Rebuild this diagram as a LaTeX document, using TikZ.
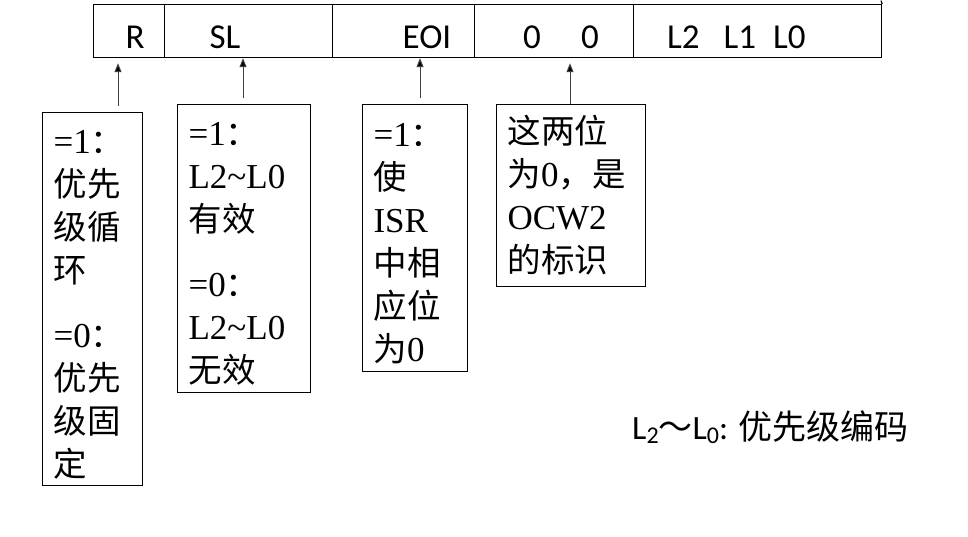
\documentclass[tikz,border=0pt]{standalone}
\usepackage{fontspec}
\setmainfont{Liberation Serif}
\newfontfamily\cjk{Noto Sans CJK SC}
\newfontfamily\calfont{Carlito}
\usetikzlibrary{arrows.meta,calc}
\newcommand\zh[1]{{\cjk\fontsize{33.5}{43}\selectfont #1}}
\newcommand\zhb[1]{{\cjk #1}}
\newcommand\topstrut{\rule{0pt}{34pt}}
\begin{document}
\begin{tikzpicture}[x=1pt,y=-1pt,
  cell/.style={draw,line width=1.2pt,anchor=north west,minimum height=53pt,inner sep=0pt},
  reglabel/.style={font=\calfont\fontsize{35}{35}\selectfont,anchor=base,inner sep=0pt},
  notebox/.style={draw,line width=1.1pt,anchor=north west,align=left,inner xsep=11pt,inner ysep=0pt,font=\fontsize{35}{43}\selectfont},
  arr/.style={draw=black!75,line width=1pt,-{Triangle[width=7pt,length=9pt,fill=black]}}]
\useasboundingbox (0,0) rectangle (968,536);
% register
\node[cell,minimum width=71pt] (cR) at (93,4) {};
\node[cell,minimum width=168pt] (cSL) at (164,4) {};
\node[cell,minimum width=142pt] (cE) at (332,4) {};
\node[cell,minimum width=159pt] (cZ) at (474,4) {};
\node[cell,minimum width=248pt] (cL) at (633,4) {};
\coordinate (topend) at (881,0.6);
\draw[line width=1.2pt] (cL.north east) -- (topend);
% labels
\node[reglabel] (tR) at (135,48) {R};
\node[reglabel] (tSL) at (225,48) {SL};
\node[reglabel] (tE) at (427,48) {EOI};
\node[reglabel] (tZ1) at (532,48) {0};
\node[reglabel] (tZ2) at (590,48) {0};
\node[reglabel,anchor=base west] (tL) at (667,48) {L2\hspace{24pt}L1\hspace{17pt}L0};
% note boxes
\node[notebox,minimum width=100pt,text width=78pt,minimum height=373pt] (b1) at (42,112)
  {\topstrut=1\zh{：}\\ \zh{优先}\\ \zh{级循}\\ \zh{环}\\[22pt] =0\zh{：}\\ \zh{优先}\\ \zh{级固}\\ \zh{定}};
\node[notebox,minimum width=133pt,text width=111pt,minimum height=288pt] (b2) at (177,104)
  {\topstrut=1\zh{：}\\ L2\textasciitilde L0\\ \zh{有效}\\[22pt] =0\zh{：}\\ L2\textasciitilde L0\\ \zh{无效}};
\node[notebox,minimum width=105pt,text width=83pt,minimum height=267pt] (b3) at (362,104)
  {\topstrut=1\zh{：}\\ \zh{使}\\ ISR\\ \zh{中相}\\ \zh{应位}\\ \zh{为}0};
\node[notebox,minimum width=149pt,text width=127pt,minimum height=182pt] (b4) at (496,104)
  {\zh{这两位}\\ \zh{为}0\zh{，是}\\ OCW2\\ \zh{的标识}};
% arrows
\draw[arr] ($(b1.north west)+(76,-6)$) -- ($(cR.south west)+(25,5)$);
\draw[arr] ($(b2.north west)+(66,-6)$) -- ($(cSL.south west)+(79,0)$);
\draw[arr] ($(b3.north west)+(58,-6)$) -- ($(cE.south west)+(88,0)$);
\draw[arr] ($(b4.north west)+(74,0)$) -- ($(cZ.south west)+(96,5)$);
% legend
\node[anchor=base west,inner sep=0pt,font=\calfont\fontsize{34}{34}\selectfont] (leg) at (632,439)
  {L\raisebox{-4pt}{\fontsize{24}{24}\selectfont 2}\zhb{～}L\raisebox{-4pt}{\fontsize{24}{24}\selectfont 0}: \zhb{优先级编码}};
\end{tikzpicture}
\end{document}
